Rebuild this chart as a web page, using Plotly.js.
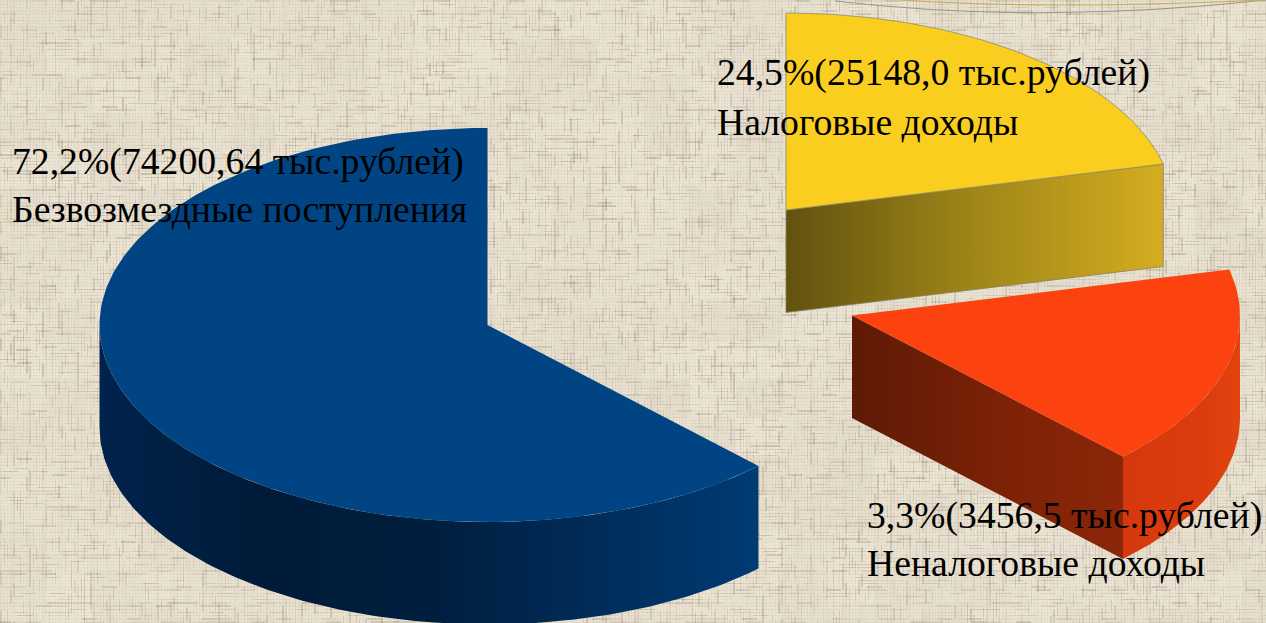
<!DOCTYPE html>
<html><head><meta charset="utf-8">
<script src="https://cdn.plot.ly/plotly-3.0.1.min.js"></script>
<style>html,body{margin:0;padding:0;background:#e4dbc5;overflow:hidden}#chart{width:1266px;height:623px}</style>
</head><body><div id="chart"></div>
<script>
// Data
const categories = ["Безвозмездные поступления", "Налоговые доходы", "Неналоговые доходы"];
const sharePercent = ["72,2", "24,5", "3,3"];
const amounts = ["74200,64", "25148,0", "3456,5"];
const drawnSectorDegrees = [224.3, 76.5, 59.2];

// Geometry and style of the fake 3D pie
const RX = 388, RY = 197, DEPTH = 102.5;
const startDeg = [135.7, 0, 76.5];
const centres = [[487.5, 325], [786, 210], [852, 315.5]];
const topColours = ["#014483", "#f9ce1f", "#fb420f"];
const labelPos = [[10, 161, 209], [715, 72, 122], [865, 515, 563]];
const FONT = "Liberation Serif, Times New Roman, serif";

function pt(c, deg, drop) {
  const a = deg * Math.PI / 180;
  return [c[0] + RX * Math.sin(a), c[1] - RY * Math.cos(a) + (drop || 0)];
}
function arc(c, a0, a1, drop) {
  const out = [], n = Math.max(2, Math.ceil(Math.abs(a1 - a0)));
  for (let i = 0; i <= n; i++) out.push(pt(c, a0 + (a1 - a0) * i / n, drop));
  return out;
}
function poly(points, extra) {
  const closed = points.concat([points[0]]);
  return Object.assign({
    type: "scatter", mode: "lines", fill: "toself", hoverinfo: "skip", showlegend: false,
    x: closed.map(p => p[0]), y: closed.map(p => p[1]), line: {width: 0, color: "rgba(0,0,0,0)"}
  }, extra);
}
function grad(stops) {
  return {type: "horizontal", colorscale: stops};
}
function topFace(i, lineCol) {
  const c = centres[i], a0 = startDeg[i], a1 = a0 + drawnSectorDegrees[i];
  return poly([c].concat(arc(c, a0, a1)), {fillcolor: topColours[i], line: {width: lineCol ? 0.8 : 0, color: lineCol || "rgba(0,0,0,0)"}});
}
function wall(c, a0, a1, extra) {
  return poly(arc(c, a0, a1).concat(arc(c, a1, a0, DEPTH)), extra);
}
function cutFace(c, deg, extra) {
  const e = pt(c, deg);
  return poly([c, e, [e[0], e[1] + DEPTH], [c[0], c[1] + DEPTH]], extra);
}

const traces = [
  wall(centres[0], startDeg[0], 270, {fillgradient: grad([[0, "#00234c"], [0.25, "#001b38"], [0.5, "#001e3e"], [0.72, "#002a56"], [1, "#003b74"]])}),
  topFace(0),
  cutFace(centres[1], startDeg[2], {line: {width: 0.8, color: "#85805f"}, fillgradient: grad([[0, "#625210"], [0.5, "#a08618"], [1, "#d4ad20"]])}),
  topFace(1, "#8f8a68"),
  cutFace(centres[2], startDeg[0], {fillgradient: grad([[0, "#5e1a05"], [0.6, "#7e2207"], [1, "#8c2608"]])}),
  wall(centres[2], 90, startDeg[0], {fillgradient: grad([[0, "#d6380d"], [0.7, "#dc3c0e"], [1, "#e2440f"]])}),
  topFace(2)
];

// Texture of the backdrop: deterministic woven cloth
function hash(n) { const s = Math.sin(n * 12.9898) * 43758.5453; return s - Math.floor(s); }
function cloth() {
  const W = 1266, H = 623, cv = document.createElement("canvas");
  cv.width = W; cv.height = H;
  const ctx = cv.getContext("2d"), img = ctx.createImageData(W, H), d = img.data;
  const P = 3.2;
  for (let y = 0; y < H; y++) {
    for (let x = 0; x < W; x++) {
      const col = Math.floor(x / P), row = Math.floor(y / P);
      const segV = Math.floor((y + col * 7) / 13), segH = Math.floor((x + row * 11) / 15);
      const hv = hash(col * 3.1 + segV * 17.7), hh = hash(row * 5.3 + segH * 29.1 + 400);
      const onV = (x % P) < 1.4 ? 1 : 0, onH = (y % P) < 1.4 ? 1 : 0;
      const patch = hash(Math.floor(x / 46) * 1.7 + Math.floor(y / 38) * 91.3);
      let t = 0;
      if (hv > 0.55) t -= (hv - 0.55) * (38 + patch * 26) * onV;
      if (hh > 0.55) t -= (hh - 0.55) * (38 + patch * 26) * onH;
      if (!onV && !onH) t += 9;
      t += (patch - 0.5) * 6;
      const i = (y * W + x) * 4;
      d[i] = 227 + t; d[i + 1] = 219 + t * 1.03; d[i + 2] = 201 + t * 1.12; d[i + 3] = 255;
    }
  }
  ctx.putImageData(img, 0, 0);
  const out = document.createElement("canvas");
  out.width = W; out.height = H;
  const o = out.getContext("2d");
  o.filter = "blur(0.7px)";
  o.drawImage(cv, 0, 0);
  return out.toDataURL("image/jpeg", 0.88);
}

const annotations = [];
categories.forEach((name, i) => {
  const [x, y1, y2] = labelPos[i];
  const base = {xref: "x", yref: "y", x: x, xanchor: "left", yanchor: "middle", showarrow: false, align: "left",
    font: {family: FONT, size: 37.7, color: "#000"}};
  annotations.push(Object.assign({}, base, {y: y1, text: sharePercent[i] + "%(" + amounts[i] + " тыс.рублей)"}));
  annotations.push(Object.assign({}, base, {y: y2, text: name}));
});

const layout = {
  width: 1266, height: 623, margin: {l: 0, r: 0, t: 0, b: 0},
  paper_bgcolor: "#e4dbc5", plot_bgcolor: "rgba(0,0,0,0)", showlegend: false,
  xaxis: {range: [0, 1266], visible: false, fixedrange: true},
  yaxis: {range: [623, 0], visible: false, fixedrange: true},
  images: [{source: cloth(), xref: "paper", yref: "paper", x: 0, y: 1, sizex: 1, sizey: 1,
    xanchor: "left", yanchor: "top", sizing: "stretch", layer: "below"}],
  shapes: [
    {type: "path", path: "M 835 1 Q 1040 25 1266 0", line: {color: "#9a968a", width: 1.1}},
    {type: "path", path: "M 900 0 Q 1050 10 1262 0", line: {color: "#c9ad63", width: 1.1}}
  ],
  annotations: annotations
};
Plotly.newPlot("chart", traces, layout, {displayModeBar: false, staticPlot: true});
</script></body></html>
